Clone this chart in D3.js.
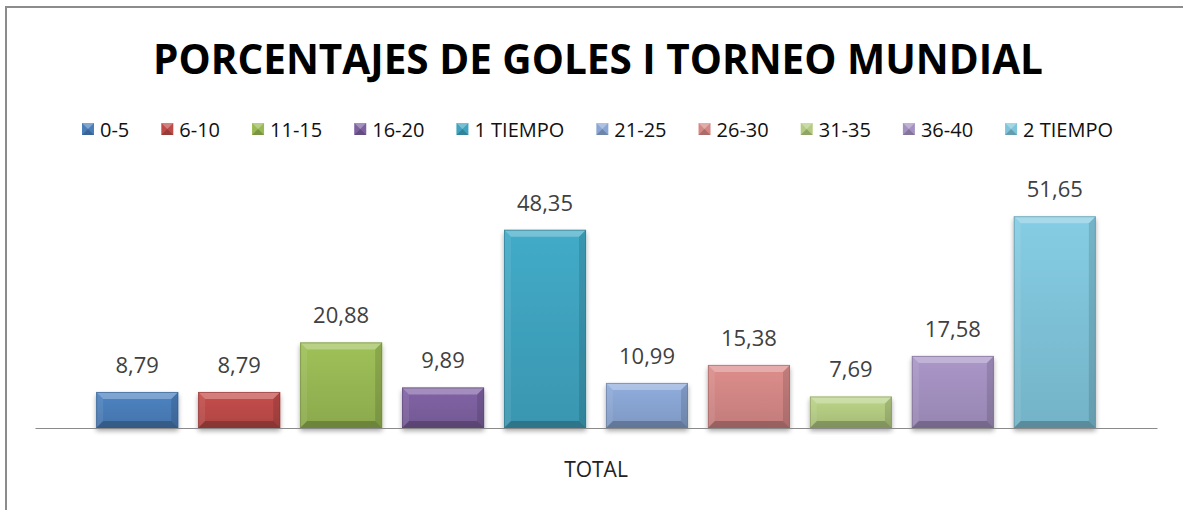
<!DOCTYPE html>
<html><head><meta charset="utf-8">
<script src="https://cdn.jsdelivr.net/npm/d3@7"></script>
<style>html,body{margin:0;padding:0;background:#fff;}svg{display:block;}</style>
</head><body>
<svg id="c" width="1183" height="510"></svg>
<script>
const title = "PORCENTAJES DE GOLES I TORNEO MUNDIAL";
const category = ["TOTAL"];
const series = ["0-5","6-10","11-15","16-20","1 TIEMPO","21-25","26-30","31-35","36-40","2 TIEMPO"];
const values = [8.79, 8.79, 20.88, 9.89, 48.35, 10.99, 15.38, 7.69, 17.58, 51.65];
const labels = ["8,79","8,79","20,88","9,89","48,35","10,99","15,38","7,69","17,58","51,65"];
const colors = ["#4a7ebb","#be4b48","#98b954","#7d60a0","#3fa4c0","#8aa6d4","#d48886","#b4cc82","#a491c1","#7fc4da"];

const svg = d3.select("#c");
const FONT = "'Open Sans', 'DejaVu Sans', sans-serif";

// frame
svg.append("rect").attr("x",6).attr("y",7).attr("width",1200).attr("height",520)
  .attr("fill","#fff").attr("stroke","#8c8c8c").attr("stroke-width",2);

// defs
const defs = svg.append("defs");
const shadow = defs.append("filter").attr("id","sh").attr("x","-20%").attr("y","-20%").attr("width","140%").attr("height","140%");
shadow.append("feGaussianBlur").attr("in","SourceAlpha").attr("stdDeviation",2.5).attr("result","b");
shadow.append("feOffset").attr("in","b").attr("dx",0).attr("dy",3).attr("result","o");
shadow.append("feComponentTransfer").attr("in","o").attr("result","o2")
  .append("feFuncA").attr("type","linear").attr("slope",0.35);
const mg = shadow.append("feMerge");
mg.append("feMergeNode").attr("in","o2");
mg.append("feMergeNode").attr("in","SourceGraphic");

series.forEach((s,i)=>{
  const g = defs.append("linearGradient").attr("id","g"+i).attr("x1",0).attr("y1",0).attr("x2",0).attr("y2",1);
  const c = d3.color(colors[i]);
  g.append("stop").attr("offset","0%").attr("stop-color", c.brighter(0.12));
  g.append("stop").attr("offset","100%").attr("stop-color", c.darker(0.25));
});

// title
svg.append("text").attr("x",598).attr("y",74).attr("text-anchor","middle")
  .attr("font-family",FONT).attr("font-weight","bold").attr("font-size",41)
  .attr("fill","#000").attr("textLength",890).attr("lengthAdjust","spacingAndGlyphs")
  .text(title);

// scales
const x0 = d3.scaleBand().domain(category).range([35,1157]).padding(0);
const x1 = d3.scaleBand().domain(series).range([0, x0.bandwidth()]).paddingInner(0.195).paddingOuter(0.6);
const y = d3.scaleLinear().domain([0,60]).range([428,182]);

// bars
const gBars = svg.append("g");
const B = 7;
category.forEach(cat=>{
  series.forEach((s,i)=>{
    const bx = x0(cat) + x1(s), bw = x1.bandwidth();
    const by = y(values[i]), bh = y(0) - y(values[i]);
    const g = gBars.append("g");
    g.append("rect").attr("x",bx).attr("y",by).attr("width",bw).attr("height",bh)
      .attr("fill","url(#g"+i+")").attr("filter","url(#sh)");
    const b = Math.min(B, bh/2);
    g.append("polygon").attr("points",[[bx,by],[bx+bw,by],[bx+bw-b,by+b],[bx+b,by+b]].join(" "))
      .attr("fill","#fff").attr("opacity",0.28);
    g.append("polygon").attr("points",[[bx,by],[bx+b,by+b],[bx+b,by+bh-b],[bx,by+bh]].join(" "))
      .attr("fill","#fff").attr("opacity",0.08);
    g.append("polygon").attr("points",[[bx+bw,by],[bx+bw,by+bh],[bx+bw-b,by+bh-b],[bx+bw-b,by+b]].join(" "))
      .attr("fill","#000").attr("opacity",0.12);
    g.append("polygon").attr("points",[[bx,by+bh],[bx+b,by+bh-b],[bx+bw-b,by+bh-b],[bx+bw,by+bh]].join(" "))
      .attr("fill","#000").attr("opacity",0.22);
    g.append("rect").attr("x",bx+0.5).attr("y",by+0.5).attr("width",bw-1).attr("height",bh-1)
      .attr("fill","none").attr("stroke", d3.color(colors[i]).darker(0.9)).attr("stroke-opacity",0.6).attr("stroke-width",1);
    svg.append("text").attr("x",bx+bw/2).attr("y",by-19).attr("text-anchor","middle")
      .attr("font-family",FONT).attr("font-size",22).attr("fill","#404040").text(labels[i]);
  });
});

// axis
const ax = svg.append("g").attr("transform","translate(0,428)")
  .call(d3.axisBottom(x0).tickSize(0).tickPadding(34));
ax.select(".domain").attr("stroke","#8a8a8a").attr("stroke-width",1.2);
ax.selectAll("text").attr("font-family",FONT).attr("font-size",21).attr("fill","#222");

// legend
const leg = svg.append("g");
const items = [];
const MS = 12;
series.forEach((s,i)=>{
  const it = leg.append("g");
  const m = it.append("g");
  m.append("rect").attr("x",0).attr("y",-14).attr("width",MS).attr("height",MS).attr("fill",colors[i]);
  m.append("polygon").attr("points",`0,-14 ${MS},-14 ${MS/2},${-14+MS/2}`).attr("fill","#fff").attr("opacity",0.3);
  m.append("polygon").attr("points",`0,-2 ${MS},-2 ${MS/2},${-14+MS/2}`).attr("fill","#000").attr("opacity",0.2);
  const t = it.append("text").attr("x",18).attr("y",0).attr("font-family",FONT).attr("font-size",20)
    .attr("fill","#111").text(s);
  const w = 18 + t.node().getComputedTextLength();
  items.push({it,w});
});
const L0 = 82, L1 = 1113;
const gap = (L1 - L0 - d3.sum(items,d=>d.w)) / (items.length-1);
let lx = L0;
items.forEach(d=>{ d.it.attr("transform",`translate(${lx},137)`); lx += d.w + gap; });
</script>
</body></html>
